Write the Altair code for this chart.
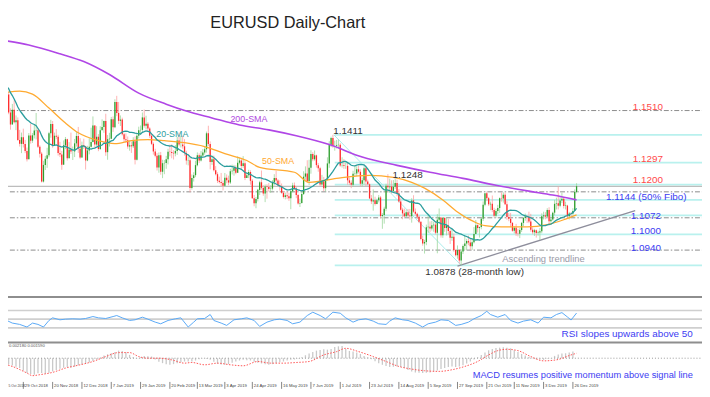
import altair as alt
import pandas as pd

# ---------------- DATA ----------------
FIRST = -13  # index of first visible bar (29 Oct 2018 = 0)
warmup_closes = [1.1691, 1.1624, 1.1685, 1.1668, 1.1672, 1.1778, 1.1748, 1.1747, 1.1771, 1.1739,
                 1.1641, 1.1604, 1.1577, 1.1548, 1.1478, 1.1514, 1.1524, 1.1491, 1.1491]
closes = [
    1.1522, 1.1594, 1.1560, 1.1580, 1.1576, 1.1502, 1.1453, 1.1513, 1.1462, 1.1470,
    1.1390, 1.1374, 1.1401, 1.1373, 1.1345, 1.1311, 1.1408, 1.1387, 1.1409, 1.1429,
    1.1430, 1.1362, 1.1334, 1.1220, 1.1288, 1.1313, 1.1327, 1.1417, 1.1455, 1.1368,
    1.1407, 1.1403, 1.1337, 1.1330, 1.1289, 1.1368, 1.1393, 1.1315, 1.1351, 1.1343,
    1.1343, 1.1376, 1.1406, 1.1354, 1.1318, 1.1368, 1.1364, 1.1306, 1.1347, 1.1362,
    1.1382, 1.1449, 1.1371, 1.1403, 1.1353, 1.1430, 1.1443, 1.1467, 1.1340, 1.1393,
    1.1395, 1.1474, 1.1442, 1.1545, 1.1500, 1.1468, 1.1473, 1.1413, 1.1393, 1.1389,
    1.1363, 1.1368, 1.1364, 1.1385, 1.1309, 1.1407, 1.1430, 1.1431, 1.1482, 1.1448,
    1.1456, 1.1437, 1.1407, 1.1374, 1.1343, 1.1325, 1.1277, 1.1327, 1.1260, 1.1295,
    1.1296, 1.1311, 1.1342, 1.1341, 1.1337, 1.1335, 1.1345, 1.1388, 1.1371, 1.1371,
    1.1364, 1.1337, 1.1306, 1.1307, 1.1194, 1.1235, 1.1246, 1.1287, 1.1327, 1.1306,
    1.1326, 1.1339, 1.1352, 1.1417, 1.1373, 1.1300, 1.1311, 1.1266, 1.1250, 1.1223,
    1.1218, 1.1214, 1.1203, 1.1236, 1.1225, 1.1216, 1.1262, 1.1264, 1.1275, 1.1256,
    1.1297, 1.1306, 1.1284, 1.1295, 1.1235, 1.1246, 1.1259, 1.1223, 1.1152, 1.1131,
    1.1149, 1.1186, 1.1217, 1.1194, 1.1171, 1.1200, 1.1198, 1.1190, 1.1191, 1.1217,
    1.1234, 1.1224, 1.1205, 1.1202, 1.1174, 1.1157, 1.1164, 1.1160, 1.1152, 1.1180,
    1.1204, 1.1192, 1.1165, 1.1130, 1.1132, 1.1169, 1.1240, 1.1253, 1.1222, 1.1276,
    1.1333, 1.1311, 1.1327, 1.1287, 1.1274, 1.1208, 1.1221, 1.1193, 1.1226, 1.1294,
    1.1370, 1.1398, 1.1366, 1.1366, 1.1369, 1.1370, 1.1286, 1.1287, 1.1283, 1.1284,
    1.1225, 1.1215, 1.1207, 1.1252, 1.1253, 1.1270, 1.1260, 1.1211, 1.1225, 1.1274,
    1.1220, 1.1209, 1.1151, 1.1139, 1.1144, 1.1128, 1.1144, 1.1155, 1.1079, 1.1083,
    1.1109, 1.1203, 1.1197, 1.1200, 1.1181, 1.1199, 1.1214, 1.1172, 1.1139, 1.1105,
    1.1090, 1.1078, 1.1095, 1.1081, 1.1078, 1.1143, 1.1097, 1.1088, 1.1076, 1.1056,
    1.0985, 1.0967, 1.0973, 1.1033, 1.1035, 1.1028, 1.1042, 1.1044, 1.1011, 1.1064,
    1.1073, 1.1001, 1.1071, 1.1030, 1.1041, 1.1018, 1.0990, 1.0995, 1.0940, 1.0919,
    1.0940, 1.0898, 1.0934, 1.0957, 1.0967, 1.0977, 1.0971, 1.0956, 1.0972, 1.1006,
    1.1042, 1.1030, 1.1034, 1.1068, 1.1125, 1.1172, 1.1152, 1.1127, 1.1129, 1.1104,
    1.1080, 1.1100, 1.1112, 1.1152, 1.1151, 1.1166, 1.1127, 1.1075, 1.1068, 1.1051,
    1.1019, 1.1031, 1.1008, 1.1007, 1.1022, 1.1051, 1.1071, 1.1077, 1.1076, 1.1057,
    1.1023, 1.1013, 1.1021, 1.1010, 1.1012, 1.1017, 1.1078, 1.1082, 1.1077, 1.1104,
    1.1058, 1.1065, 1.1093, 1.1129, 1.1131, 1.1121, 1.1143, 1.1150, 1.1120, 1.1122,
    1.1078, 1.1090, 1.1089, 1.1100, 1.1177, 1.1201]
highs = [
    1.1548, 1.1611, 1.1608, 1.1621, 1.1599, 1.1585, 1.1519, 1.1537, 1.1552, 1.1490,
    1.1482, 1.1431, 1.1420, 1.1436, 1.1390, 1.1359, 1.1418, 1.1456, 1.1418, 1.1451,
    1.1500, 1.1438, 1.1368, 1.1341, 1.1305, 1.1325, 1.1358, 1.1423, 1.1472, 1.1467,
    1.1420, 1.1434, 1.1411, 1.1382, 1.1345, 1.1388, 1.1402, 1.1395, 1.1381, 1.1420,
    1.1363, 1.1394, 1.1424, 1.1443, 1.1397, 1.1383, 1.1395, 1.1366, 1.1366, 1.1397,
    1.1440, 1.1486, 1.1450, 1.1446, 1.1414, 1.1446, 1.1474, 1.1469, 1.1497, 1.1410,
    1.1419, 1.1484, 1.1486, 1.1556, 1.1570, 1.1545, 1.1490, 1.1481, 1.1419, 1.1417,
    1.1404, 1.1388, 1.1383, 1.1401, 1.1404, 1.1415, 1.1444, 1.1449, 1.1502, 1.1514,
    1.1489, 1.1463, 1.1442, 1.1418, 1.1380, 1.1354, 1.1336, 1.1339, 1.1341, 1.1309,
    1.1308, 1.1325, 1.1354, 1.1371, 1.1372, 1.1348, 1.1369, 1.1402, 1.1420, 1.1407,
    1.1407, 1.1393, 1.1346, 1.1323, 1.1322, 1.1249, 1.1258, 1.1305, 1.1339, 1.1335,
    1.1345, 1.1353, 1.1362, 1.1424, 1.1448, 1.1384, 1.1325, 1.1326, 1.1283, 1.1258,
    1.1240, 1.1255, 1.1224, 1.1255, 1.1249, 1.1244, 1.1272, 1.1289, 1.1288, 1.1286,
    1.1323, 1.1318, 1.1315, 1.1324, 1.1303, 1.1255, 1.1268, 1.1266, 1.1230, 1.1165,
    1.1157, 1.1190, 1.1223, 1.1265, 1.1205, 1.1208, 1.1209, 1.1214, 1.1205, 1.1226,
    1.1250, 1.1264, 1.1230, 1.1225, 1.1212, 1.1181, 1.1175, 1.1180, 1.1174, 1.1191,
    1.1215, 1.1216, 1.1200, 1.1170, 1.1150, 1.1179, 1.1262, 1.1282, 1.1307, 1.1309,
    1.1348, 1.1340, 1.1347, 1.1330, 1.1296, 1.1280, 1.1247, 1.1239, 1.1229, 1.1319,
    1.1385, 1.1403, 1.1411, 1.1387, 1.1390, 1.1392, 1.1377, 1.1319, 1.1312, 1.1299,
    1.1299, 1.1236, 1.1225, 1.1264, 1.1286, 1.1283, 1.1286, 1.1270, 1.1236, 1.1282,
    1.1285, 1.1228, 1.1212, 1.1165, 1.1188, 1.1158, 1.1150, 1.1165, 1.1161, 1.1091,
    1.1117, 1.1211, 1.1250, 1.1232, 1.1225, 1.1226, 1.1230, 1.1228, 1.1189, 1.1152,
    1.1113, 1.1110, 1.1105, 1.1108, 1.1108, 1.1152, 1.1164, 1.1110, 1.1093, 1.1082,
    1.1057, 1.0999, 1.0982, 1.1044, 1.1085, 1.1057, 1.1059, 1.1056, 1.1054, 1.1087,
    1.1110, 1.1052, 1.1075, 1.1075, 1.1075, 1.1068, 1.1025, 1.1025, 1.1008, 1.0945,
    1.0959, 1.0944, 1.0943, 1.0963, 1.0999, 1.0986, 1.0999, 1.0989, 1.0986, 1.1034,
    1.1063, 1.1045, 1.1036, 1.1071, 1.1139, 1.1172, 1.1179, 1.1157, 1.1138, 1.1163,
    1.1113, 1.1108, 1.1125, 1.1155, 1.1175, 1.1176, 1.1175, 1.1140, 1.1092, 1.1092,
    1.1055, 1.1037, 1.1047, 1.1027, 1.1030, 1.1055, 1.1075, 1.1089, 1.1083, 1.1097,
    1.1088, 1.1033, 1.1027, 1.1024, 1.1019, 1.1030, 1.1090, 1.1097, 1.1095, 1.1111,
    1.1115, 1.1078, 1.1097, 1.1145, 1.1154, 1.1200, 1.1156, 1.1174, 1.1155, 1.1138,
    1.1125, 1.1096, 1.1095, 1.1111, 1.1188, 1.1213]
lows = [
    1.1464, 1.1516, 1.1550, 1.1554, 1.1561, 1.1495, 1.1432, 1.1453, 1.1457, 1.1430,
    1.1386, 1.1363, 1.1336, 1.1359, 1.1336, 1.1302, 1.1311, 1.1375, 1.1378, 1.1396,
    1.1392, 1.1357, 1.1318, 1.1216, 1.1216, 1.1267, 1.1276, 1.1319, 1.1399, 1.1358,
    1.1367, 1.1393, 1.1326, 1.1320, 1.1268, 1.1288, 1.1352, 1.1306, 1.1323, 1.1333,
    1.1308, 1.1320, 1.1363, 1.1337, 1.1313, 1.1317, 1.1353, 1.1269, 1.1303, 1.1331,
    1.1359, 1.1380, 1.1359, 1.1365, 1.1344, 1.1349, 1.1430, 1.1419, 1.1325, 1.1309,
    1.1363, 1.1393, 1.1423, 1.1438, 1.1487, 1.1455, 1.1447, 1.1408, 1.1381, 1.1378,
    1.1354, 1.1346, 1.1337, 1.1357, 1.1290, 1.1306, 1.1396, 1.1410, 1.1420, 1.1440,
    1.1433, 1.1425, 1.1398, 1.1369, 1.1330, 1.1319, 1.1265, 1.1256, 1.1248, 1.1234,
    1.1250, 1.1272, 1.1290, 1.1323, 1.1315, 1.1310, 1.1323, 1.1329, 1.1364, 1.1359,
    1.1354, 1.1326, 1.1289, 1.1286, 1.1176, 1.1187, 1.1220, 1.1238, 1.1282, 1.1296,
    1.1302, 1.1322, 1.1330, 1.1338, 1.1365, 1.1270, 1.1288, 1.1261, 1.1245, 1.1214,
    1.1212, 1.1200, 1.1184, 1.1198, 1.1213, 1.1205, 1.1210, 1.1249, 1.1244, 1.1250,
    1.1255, 1.1290, 1.1271, 1.1276, 1.1226, 1.1236, 1.1234, 1.1207, 1.1150, 1.1119,
    1.1111, 1.1139, 1.1165, 1.1187, 1.1162, 1.1136, 1.1150, 1.1179, 1.1174, 1.1184,
    1.1204, 1.1212, 1.1201, 1.1183, 1.1170, 1.1151, 1.1147, 1.1148, 1.1141, 1.1107,
    1.1176, 1.1186, 1.1152, 1.1126, 1.1116, 1.1130, 1.1165, 1.1227, 1.1216, 1.1206,
    1.1252, 1.1303, 1.1305, 1.1277, 1.1260, 1.1202, 1.1203, 1.1181, 1.1180, 1.1225,
    1.1276, 1.1361, 1.1358, 1.1346, 1.1355, 1.1355, 1.1280, 1.1277, 1.1272, 1.1272,
    1.1207, 1.1206, 1.1193, 1.1199, 1.1240, 1.1242, 1.1253, 1.1201, 1.1200, 1.1207,
    1.1202, 1.1204, 1.1149, 1.1128, 1.1101, 1.1122, 1.1127, 1.1135, 1.1070, 1.1027,
    1.1048, 1.1099, 1.1178, 1.1174, 1.1171, 1.1174, 1.1190, 1.1160, 1.1134, 1.1101,
    1.1066, 1.1075, 1.1072, 1.1073, 1.1064, 1.1052, 1.1092, 1.1082, 1.1068, 1.1050,
    1.0980, 1.0958, 1.0926, 1.0960, 1.1010, 1.1013, 1.1020, 1.1015, 1.1004, 1.0927,
    1.1055, 1.0991, 1.0990, 1.1015, 1.1000, 1.1003, 1.0965, 1.0978, 1.0933, 1.0914,
    1.0905, 1.0885, 1.0878, 1.0924, 1.0940, 1.0940, 1.0960, 1.0940, 1.0941, 1.0967,
    1.1005, 1.1012, 1.0991, 1.1025, 1.1059, 1.1119, 1.1140, 1.1120, 1.1103, 1.1095,
    1.1073, 1.1072, 1.1087, 1.1092, 1.1138, 1.1134, 1.1124, 1.1064, 1.1058, 1.1035,
    1.1015, 1.1008, 1.0998, 1.0996, 1.0989, 1.1014, 1.1037, 1.1060, 1.1051, 1.1050,
    1.1015, 1.1004, 1.0998, 1.0991, 1.0999, 1.0981, 1.1009, 1.1065, 1.1066, 1.1072,
    1.1040, 1.1052, 1.1060, 1.1082, 1.1106, 1.1106, 1.1115, 1.1132, 1.1110, 1.1106,
    1.1070, 1.1065, 1.1076, 1.1085, 1.1101, 1.1172]

sma200_i = [-13, 3, 20, 33, 47, 63, 78, 89, 103, 118, 134, 149, 167, 185, 204, 222, 240, 258, 276, 289, 302]
sma200_v = [1.1799, 1.1778, 1.1742, 1.1710, 1.1657, 1.1581, 1.1536, 1.1508, 1.1480, 1.1451, 1.1431,
            1.1407, 1.1371, 1.1320, 1.1286, 1.1258, 1.1233, 1.1205, 1.1181, 1.1165, 1.1145]
sma50_i = [-13, -2, 5, 14, 23, 30, 41, 50, 59, 68, 77, 88, 99, 110, 122, 129, 148, 156, 171, 189,
           202, 212, 219, 229, 237, 246, 252, 261, 275, 286, 295, 302]
sma50_v = [1.1581, 1.1589, 1.1577, 1.1520, 1.1459, 1.1419, 1.1387, 1.1375, 1.1387, 1.1391, 1.1387,
           1.1379, 1.1363, 1.1334, 1.1306, 1.1278, 1.1258, 1.1217, 1.1233, 1.1245, 1.1237, 1.1217,
           1.1193, 1.1145, 1.1096, 1.1056, 1.1040, 1.1035, 1.1035, 1.1044, 1.1064, 1.1084]

rsi_i = [-13, -9, -6, -2, 2, 5, 8, 11, 14, 16, 20, 23, 27, 31, 34, 38, 41, 45, 49, 51, 54, 58, 61, 65,
         68, 72, 75, 79, 83, 86, 90, 93, 95, 99, 102, 104, 108, 111, 115, 119, 122, 126, 129, 133,
         137, 140, 144, 147, 151, 155, 158, 162, 165, 169, 173, 176, 180, 183, 187, 191, 194, 198,
         200, 203, 207, 210, 214, 218, 221, 225, 228, 232, 236, 239, 243, 246, 250, 253, 255, 259,
         263, 266, 270, 273, 277, 281, 284, 288, 291, 294, 297, 299, 302]
rsi_v = [50.8, 47, 41, 38, 32, 41, 38, 32, 47, 53, 48.5, 50, 50.8, 50, 51.5, 56, 53, 51.5, 56, 58.3,
         53, 47, 48.5, 54.5, 50, 43.2, 39.4, 47, 50.8, 53, 32, 43.2, 50.8, 51.5, 60.6, 47, 41, 35.7,
         48.5, 50.8, 53, 47, 33.4, 43.2, 48.5, 50, 47, 39.4, 43.2, 58.3, 65.9, 58.3, 50.8, 65.9,
         63.6, 53, 43.2, 48.5, 50.8, 45.5, 39.4, 37.9, 45.5, 53, 48.5, 47, 41, 32, 39.4, 43.2, 48.5,
         47, 35.7, 37.9, 43.2, 50.8, 58.3, 68, 60.6, 54.5, 60.6, 47, 41, 45.5, 48.5, 41, 54.5, 53,
         60.6, 65, 55, 48, 64]
rsi_levels = [30, 50, 70]

macd_first = -12  # histogram read every second bar
macd_hist = [-15, -17, -19, -22, -26, -30, -38, -45, -48, -50,
             -46, -45, -47, -44, -40, -36, -32, -29, -27, -29,
             -26, -21, -19, -17, -13, -9, -4, 2, 8, 12,
             15, 19, 23, 22, 18, 10, 4, 1, 3, 7,
             6, 5, -4, -11, -15, -18, -20, -18, -15, -12,
             -10, -10, -10, -7, -3, -1, -2, -5, -11, -17,
             -19, -20, -18, -14, -10, -7, -5, -6, -7, -11,
             -14, -16, -18, -20, -18, -15, -12, -10, -7, -5,
             -4, -2, 3, 9, 14, 19, 23, 25, 27, 26,
             28, 34, 36, 37, 28, 22, 20, 17, 13, 7,
             3, -3, -9, -15, -20, -24, -27, -26, -25, -27,
             -30, -36, -40, -43, -44, -45, -44, -43, -40, -37,
             -33, -30, -27, -25, -27, -25, -21, -16, -10, -4,
             3, 10, 17, 24, 28, 31, 32, 33, 32, 30,
             24, 19, 13, 8, 4, 1, -3, -4, -5, -2,
             1, 7, 11, 14, 15, 17, 20]
signal_i = [-13, -6, 2, 5, 9, 16, 23, 31, 38, 45, 52, 58, 63, 68, 74, 81, 88, 92, 99, 106, 113, 120,
            128, 135, 142, 149, 156, 164, 171, 176, 183, 191, 198, 205, 212, 219, 227, 234, 241, 248,
            254, 259, 264, 270, 277, 284, 291, 299, 302]
signal_v = [-15, -25, -45, -53, -50, -43, -30, -20, -10, 5, 17, 17, 5, 0, 0, -5, -15, -13, -20, -15,
            -20, -23, -10, -15, -15, -13, -10, 10, 20, 30, 20, 5, -10, -25, -33, -38, -40, -35, -25,
            -10, 10, 23, 27, 23, 5, -8, -5, 10, 15]

fib_levels = [1.0878, 1.1004, 1.1082, 1.1145, 1.1207, 1.1297, 1.1411]
dashdot_levels = [1.1510, 1.1178, 1.1072, 1.0940]
solid_levels = [1.1200]
fibdiag_i = [169.5, 239]
fibdiag_p = [1.1411, 1.0878]
trend_i = [237, 334]
trend_p = [1.0875, 1.1101]

tick_idx = [0, 16, 32, 48, 64, 80, 95, 110, 125, 141, 157, 173, 189, 205, 221, 237, 253, 268, 284, 300]
tick_lbl = ["29 Oct 2018", "20 Nov 2018", "12 Dec 2018", "7 Jan 2019", "29 Jan 2019",
            "20 Feb 2019", "13 Mar 2019", "3 Apr 2019", "24 Apr 2019", "16 May 2019", "7 Jun 2019",
            "1 Jul 2019", "23 Jul 2019", "14 Aug 2019", "5 Sep 2019", "27 Sep 2019", "21 Oct 2019",
            "11 Nov 2019", "3 Dec 2019", "26 Dec 2019"]
first_tick_lbl = "5 Oct 2018"

red_lbl = ["1.1510", "1.1297", "1.1200"]
red_lvl = [1.1510, 1.1297, 1.1200]
blue_lbl = ["1.1144 (50% Fibo)", "1.1072", "1.1000", "1.0940"]
blue_lvl = [1.1144, 1.1072, 1.1000, 1.0940]

# ---------------- TABLES ----------------
all_c = warmup_closes + closes
start = FIRST - len(warmup_closes)
rows = []
for k, c in enumerate(all_c):
    rows.append({"i": start + k, "c": c, "o": all_c[k - 1] if k > 0 else c})
df_all = pd.DataFrame(rows)
vis = df_all[df_all.i >= FIRST].copy().reset_index(drop=True)
vis["h"] = highs
vis["l"] = lows
vis["h"] = vis[["h", "o", "c"]].max(axis=1)
vis["l"] = vis[["l", "o", "c"]].min(axis=1)

X_END = 370.5
FONT = "Liberation Sans"

xs = alt.Scale(domain=[-12.68, 370.47], range=[-8, 702], nice=False, zero=False)
ps = alt.Scale(domain=[1.07488, 1.19521], range=[290, -8], nice=False, zero=False)
rs = alt.Scale(domain=[0, 100], range=[334.6, 290.4], nice=False, zero=False)
ms = alt.Scale(domain=[-66, 42], range=[374, 338], nice=False, zero=False)


def X(f="i"):
    return alt.X(f"{f}:Q", scale=xs, axis=None)


def Y(f, s):
    return alt.Y(f"{f}:Q", scale=s, axis=None)


def levels_df(vals):
    return pd.DataFrame({"v": vals, "a": FIRST, "b": X_END})


layers = []

# fib horizontal lines
layers.append(alt.Chart(pd.DataFrame({"v": fib_levels, "a": 170, "b": X_END}))
              .mark_rule(color="#b9f1ee", strokeWidth=1.8)
              .encode(x=X("a"), x2="b:Q", y=Y("v", ps)))
# grey levels
layers.append(alt.Chart(levels_df(solid_levels)).mark_rule(color="#bdbdbd", strokeWidth=1.2)
              .encode(x=X("a"), x2="b:Q", y=Y("v", ps)))
layers.append(alt.Chart(levels_df(dashdot_levels))
              .mark_rule(color="#8c8c8c", strokeWidth=1, strokeDash=[5, 2, 1.5, 2])
              .encode(x=X("a"), x2="b:Q", y=Y("v", ps)))
# fib diagonal + trendline
layers.append(alt.Chart(pd.DataFrame({"i": fibdiag_i, "v": fibdiag_p}))
              .mark_line(color="#a8ecea", strokeWidth=1).encode(x=X(), y=Y("v", ps)))
layers.append(alt.Chart(pd.DataFrame({"i": trend_i, "v": trend_p}))
              .mark_line(color="#8e8e9c", strokeWidth=1.3).encode(x=X(), y=Y("v", ps)))

bull = "datum.c >= datum.o"
layers.append(alt.Chart(vis).mark_rule(strokeWidth=0.8).encode(
    x=X(), y=Y("l", ps), y2="h:Q",
    color=alt.condition(bull, alt.value("#9cd69c"), alt.value("#ffa0a0"))))
layers.append(alt.Chart(vis).mark_rule(strokeWidth=1.3).encode(
    x=X(), y=Y("o", ps), y2="c:Q",
    color=alt.condition(bull, alt.value("#2f9e2f"), alt.value("#ff2b2b"))))

# moving averages
layers.append(alt.Chart(pd.DataFrame({"i": sma200_i, "v": sma200_v}))
              .mark_line(color="#b046e6", strokeWidth=1.6, interpolate="monotone")
              .encode(x=X(), y=Y("v", ps)))
layers.append(alt.Chart(pd.DataFrame({"i": sma50_i, "v": sma50_v}))
              .mark_line(color="#ffaa30", strokeWidth=1.3, interpolate="monotone")
              .encode(x=X(), y=Y("v", ps)))
layers.append(alt.Chart(df_all)
              .transform_window(sma="mean(c)", frame=[-19, 0], sort=[alt.SortField("i")])
              .transform_filter(f"datum.i >= {FIRST}")
              .mark_line(color="#2a9d9d", strokeWidth=1.3)
              .encode(x=X(), y=Y("sma", ps)))


def text_at(t, x, y, color, size, align="left"):
    return (alt.Chart(pd.DataFrame({"t": [t]}))
            .mark_text(align=align, baseline="middle", font=FONT, fontSize=size, color=color)
            .encode(x=alt.value(x), y=alt.value(y), text="t:N"))


def text_lvl(t, x, lvl, dy, color, size):
    return (alt.Chart(pd.DataFrame({"t": [t], "v": [lvl]}))
            .mark_text(align="left", baseline="middle", dy=dy, font=FONT, fontSize=size, color=color)
            .encode(x=alt.value(x), y=Y("v", ps), text="t:N"))


layers.append(text_at("EURUSD Daily-Chart", 283, 12.7, "#222222", 16.5, "center"))
layers.append(text_at("200-SMA", 225, 110, "#b048e0", 9))
layers.append(text_at("20-SMA", 150, 125, "#2e9e9e", 9))
layers.append(text_at("50-SMA", 257, 153, "#ffa830", 9))
layers.append(text_lvl("1.1411", 329, 1.1411, -4, "#333333", 10))
layers.append(text_lvl("1.1248", 389, 1.1248, 0, "#333333", 10))
layers.append(text_lvl("1.0878 (28-month low)", 422, 1.0878, 7, "#333333", 10))
layers.append(text_at("Ascending trendline", 500, 252, "#9a9aa8", 9.5))
for t, v, dy in zip(red_lbl, red_lvl, [-4, -4, -6]):
    layers.append(text_lvl(t, 632, v, dy, "#ff4a4a", 10))
for t, v, dy, x in zip(blue_lbl, blue_lvl, [-3, -2, -4, -2], [605, 630, 630, 630]):
    layers.append(text_lvl(t, x, v, dy, "#3d3df2", 10))

# panel separators
one = pd.DataFrame({"k": [0]})
for yy in [290, 336]:
    layers.append(alt.Chart(one).mark_rule(color="#8e8e8e", strokeWidth=2)
                  .encode(x=alt.value(-8), x2=alt.value(702), y=alt.value(yy)))

# RSI panel
layers.append(alt.Chart(levels_df(rsi_levels)).mark_rule(color="#cfcfcf", strokeWidth=1.6)
              .encode(x=X("a"), x2="b:Q", y=Y("v", rs)))
layers.append(alt.Chart(pd.DataFrame({"i": rsi_i, "v": rsi_v}))
              .mark_line(color="#5aa9f6", strokeWidth=1).encode(x=X(), y=Y("v", rs)))
layers.append(text_at("RSI slopes upwards above 50", 560, 328, "#3d3df2", 10))

# MACD panel
mh = pd.DataFrame({"i": list(range(macd_first, macd_first + 2 * len(macd_hist), 2)),
                   "v": macd_hist, "z": 0})
layers.append(alt.Chart(mh).mark_rule(color="#c9c9c9", strokeWidth=1.3)
              .encode(x=X(), y=Y("v", ms), y2="z:Q"))
layers.append(alt.Chart(levels_df([0])).mark_rule(color="#999999", strokeWidth=1, strokeDash=[1, 2])
              .encode(x=X("a"), x2="b:Q", y=Y("v", ms)))
layers.append(alt.Chart(pd.DataFrame({"i": signal_i, "v": signal_v}))
              .mark_line(color="#ff5555", strokeWidth=1, strokeDash=[1.5, 1.5], interpolate="monotone")
              .encode(x=X(), y=Y("v", ms)))
layers.append(text_at("0.002180 0.001590", 1, 339.5, "#555555", 4.2))
layers.append(text_at("MACD resumes positive momentum above signal line", 470, 369.5, "#3d3df2", 9.4))

# date axis
td = pd.DataFrame({"i": tick_idx, "lbl": tick_lbl})
layers.append(alt.Chart(td).mark_rule(color="#666666", strokeWidth=0.8)
              .encode(x=X(), y=alt.value(376), y2=alt.value(383)))
layers.append(alt.Chart(td).mark_text(align="left", baseline="middle", dx=1.5, font=FONT,
                                      fontSize=4.3, color="#444444")
              .encode(x=X(), y=alt.value(380), text="lbl:N"))
layers.append(text_at(first_tick_lbl, 0.5, 380, "#444444", 3.4))

chart = (alt.layer(*layers)
         .resolve_scale(y="independent")
         .properties(width=702, height=389, padding=0,
                     autosize=alt.AutoSizeParams(type="none"), background="white")
         .configure_view(strokeWidth=0))

chart.save("out.html", embed_options={"renderer": "svg", "actions": False})
